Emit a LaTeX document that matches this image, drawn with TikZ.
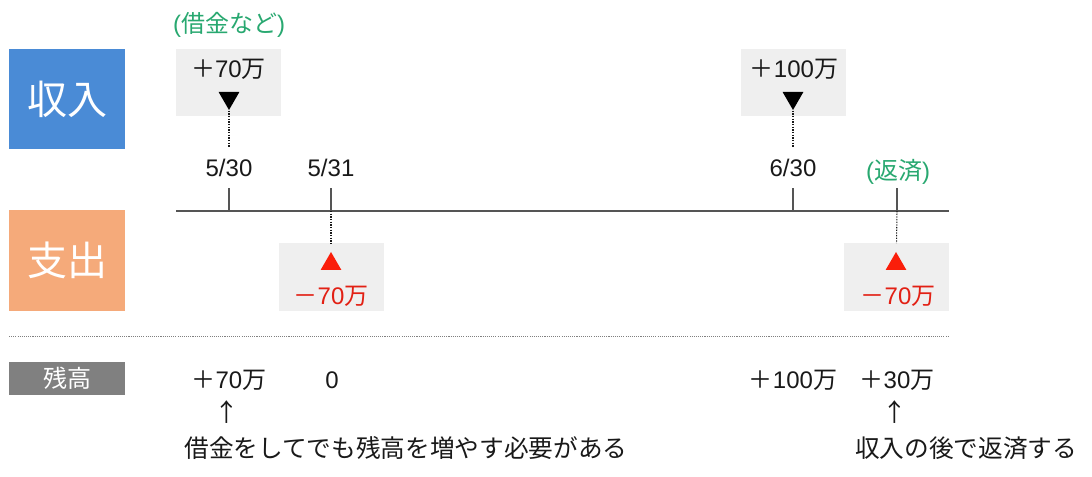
\documentclass[tikz,border=0pt]{standalone}
\usepackage{fontspec}
\setmainfont{Liberation Sans}
\newfontfamily\jp{Noto Sans CJK JP}
\usetikzlibrary{shapes.geometric}

\definecolor{inblue}{RGB}{74,139,214}
\definecolor{outorange}{RGB}{245,170,122}
\definecolor{balgray}{RGB}{128,128,128}
\definecolor{notegreen}{RGB}{40,168,112}
\definecolor{minusred}{RGB}{226,32,20}
\definecolor{trired}{RGB}{250,30,10}
\definecolor{boxgray}{RGB}{239,239,239}
\definecolor{axisgray}{RGB}{85,85,85}
\definecolor{txtblack}{RGB}{25,25,25}

\newcommand{\jpman}{{\jp 万}}
\newcommand{\jpplus}{{\jp ＋}}
\newcommand{\jpminus}{{\jp －}}

\tikzset{
	catbox/.style={minimum width=87pt, minimum height=75pt, inner sep=0pt, text=white, font=\jp\fontsize{30}{30}\selectfont},
	balbox/.style={fill=balgray, minimum width=87pt, minimum height=24.75pt, inner sep=0pt, text=white, font=\jp\fontsize{18}{18}\selectfont},
	amtbox/.style={fill=boxgray, minimum width=78.75pt, minimum height=50.25pt, inner sep=0pt},
	amt/.style={font=\fontsize{18}{20}\selectfont, text=txtblack, inner sep=1pt},
	datelbl/.style={font=\fontsize{18}{20}\selectfont, text=txtblack},
	notelbl/.style={font=\fontsize{18}{20}\selectfont, text=notegreen},
	memo/.style={font=\jp\fontsize{18.5}{20}\selectfont, text=txtblack, inner sep=1pt},
	tri/.style={regular polygon, regular polygon sides=3, minimum size=18pt, inner sep=0pt},
	axis/.style={axisgray, line width=1.5pt},
	tick/.style={axisgray, line width=0.9pt},
	dotline/.style={txtblack, line width=0.8pt, dash pattern=on 1pt off 1pt},
	sepline/.style={gray, line width=0.6pt, dash pattern=on 0.8pt off 0.8pt},
}

\begin{document}
\begin{tikzpicture}[x=0.75pt,y=-0.75pt]
	\useasboundingbox (0,0) rectangle (1092,477);
	% category boxes
	\node[catbox, fill=inblue] (inc) at (67,99) {収入};
	\node[catbox, fill=outorange] (exp) at (67,260.5) {支出};
	\node[balbox] (bal) at (67,378.5) {残高};
	% time axis
	\coordinate (axL) at (176,211);
	\coordinate (axR) at (949,211);
	\draw[axis] (axL) -- (axR);
	\foreach \x/\n in {229/1, 331/2, 793/3, 897/4} {
		\coordinate (tk\n) at (\x,211);
		\draw[tick] (tk\n) -- ++(0,-23);
	}
	\node[datelbl] (d1) at (229,168) {5/30};
	\node[datelbl] (d2) at (331,168) {5/31};
	\node[datelbl] (d3) at (793,168) {6/30};
	\node[notelbl] (n1) at (229,25) {({\jp 借金など})};
	\node[notelbl] (n2) at (898,172) {({\jp 返済})};
	% income
	\node[amtbox] (ib1) at (228.5,82.5) {};
	\node[amt] (ia1) at (228.5,69) {\jpplus 70\jpman};
	\node[tri, fill=black, shape border rotate=180] (it1) at (229,98) {};
	\draw[dotline, shorten >=5pt] (it1.corner 1) -- (d1.north);
	\node[amtbox] (ib2) at (793,82.5) {};
	\node[amt] (ia2) at (794,69) {\jpplus 100\jpman};
	\node[tri, fill=black, shape border rotate=180] (it2) at (793,98) {};
	\draw[dotline, shorten >=5pt] (it2.corner 1) -- (d3.north);
	% expenses
	\node[amtbox] (ob1) at (331,277) {};
	\node[tri, fill=trired] (ot1) at (331,264) {};
	\node[amt, text=minusred] (oa1) at (331,296) {\jpminus 70\jpman};
	\draw[dotline] (tk2) -- (ob1.north);
	\node[amtbox] (ob2) at (896.5,277) {};
	\node[tri, fill=trired] (ot2) at (896,264) {};
	\node[amt, text=minusred] (oa2) at (898,296) {\jpminus 70\jpman};
	\draw[dotline] (tk4) -- (ob2.north);
	% separator
	\coordinate (sepL) at (9,336);
	\coordinate (sepR) at (948,336);
	\draw[sepline] (sepL) -- (sepR);
	% balance row
	\node[amt] (b1) at (229,380) {\jpplus 70\jpman};
	\node[amt] (b2) at (332,380) {0};
	\node[amt] (b3) at (793,380) {\jpplus 100\jpman};
	\node[amt] (b4) at (897,380) {\jpplus 30\jpman};
	\node[memo] (up1) at (227,412) {↑};
	\node[memo] (up2) at (895,412) {↑};
	\node[memo] (m1) at (406,448) {借金をしてでも残高を増やす必要がある};
	\node[memo] (m2) at (966,448) {収入の後で返済する};
\end{tikzpicture}
\end{document}
